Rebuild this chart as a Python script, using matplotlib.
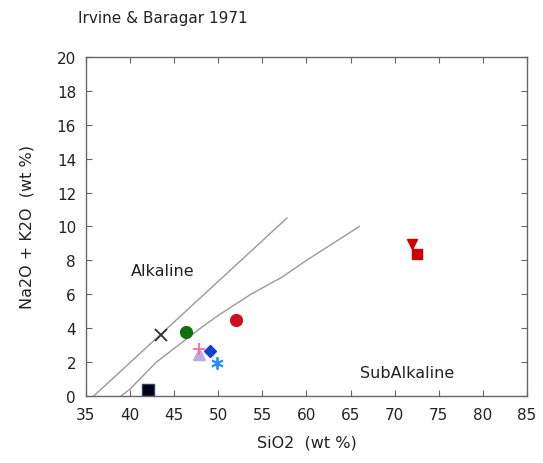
import matplotlib
matplotlib.use("Agg")
import matplotlib.pyplot as plt

plt.rcParams['font.family'] = ['DejaVu Sans']

# Dividing lines (Irvine & Baragar 1971)
line1_sio2 = [35.9, 57.8]
line1_alk = [0.0, 10.5]
line2_sio2 = [39.0, 40.0, 43.0, 45.0, 48.0, 50.0, 53.7, 57.2, 60.0, 63.0, 66.0]
line2_alk = [0.0, 0.4, 2.0, 2.8, 4.0, 4.75, 6.0, 7.0, 8.0, 9.0, 10.0]

# Samples
samples = [
    # (sio2, alk, marker, face, edge, size)
    (43.5, 3.6, 'x', '#3a2a3a', '#3a2a3a', 8),
    (46.4, 3.77, 'o', '#107010', '#107010', 8.5),
    (52.0, 4.5, 'o', '#cc1020', '#cc1020', 8.5),
    (47.8, 2.5, '^', '#c0a8e0', '#c0a8e0', 8),
    (47.8, 2.75, '+', '#f070a8', '#f070a8', 8),
    (49.1, 2.67, 'D', '#1040d0', '#1040d0', 6.5),
    (49.9, 1.94, '*', '#2090ff', '#2090ff', 9),
    (42.1, 0.37, 's', '#000018', '#304060', 8),
    (71.95, 8.95, 'v', '#cc0000', '#cc0000', 7.5),
    (72.5, 8.35, 's', '#cc0000', '#cc0000', 7.5),
]

fig = plt.figure(figsize=(5.43, 4.64), dpi=100)
ax = fig.add_axes([0.158, 0.1444, 0.8125, 0.7306])

ax.plot(line1_sio2, line1_alk, color='#999999', lw=1.0)
ax.plot(line2_sio2, line2_alk, color='#999999', lw=1.0)

for x, y, m, fc, ec, s in samples:
    if m in ('x', '+'):
        ax.plot([x], [y], marker=m, color=fc, ms=s, mew=1.3, ls='none')
    elif m == '*':
        ax.plot([x], [y], marker=(6, 2, 0), color=fc, ms=s, mew=1.3, ls='none')
    else:
        ax.plot([x], [y], marker=m, mfc=fc, mec=ec, ms=s, mew=1.0, ls='none')

ax.text(43.75, 7.4, 'Alkaline', fontsize=11.5, ha='center', va='center', color='#222222')
ax.text(71.4, 1.4, 'SubAlkaline', fontsize=11.5, ha='center', va='center', color='#222222')

ax.set_xlim(35, 85)
ax.set_ylim(0, 20)
ax.set_xticks(range(35, 86, 5))
ax.set_yticks(range(0, 21, 2))
ax.tick_params(direction='in', top=True, right=True, length=4, width=0.8,
               color='#666666', labelsize=11, labelcolor='#222222')
ax.tick_params(axis='x', pad=8)
ax.tick_params(axis='y', pad=7)
for sp in ax.spines.values():
    sp.set_color('#666666')
    sp.set_linewidth(1.0)

ax.set_xlabel('SiO2  (wt %)', fontsize=11.5, color='#222222', labelpad=9)
ax.set_ylabel('Na2O + K2O  (wt %)', fontsize=11.5, color='#222222', labelpad=16)
fig.text(0.143, 0.96, 'Irvine & Baragar 1971', fontsize=11, ha='left', va='center', color='#222222')

fig.savefig('out.png', dpi=100)
